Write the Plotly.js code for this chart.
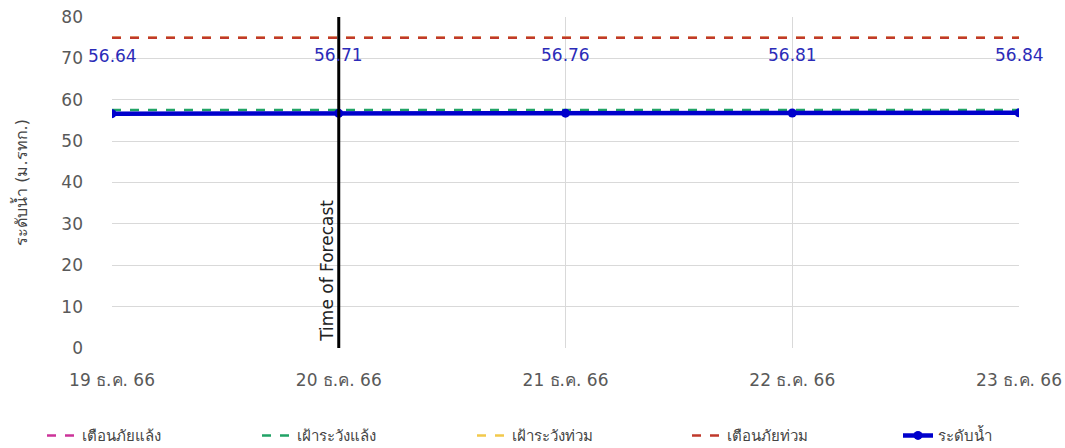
<!DOCTYPE html>
<html><head><meta charset="utf-8">
<script src="https://cdn.plot.ly/plotly-3.0.1.min.js"></script>
<style>html,body{margin:0;padding:0;background:#fff}#chart{width:1065px;height:448px}</style>
</head><body><div id="chart"></div>
<script>
const dates = ["19 ธ.ค. 66","20 ธ.ค. 66","21 ธ.ค. 66","22 ธ.ค. 66","23 ธ.ค. 66"];
const waterLevel = [56.64, 56.71, 56.76, 56.81, 56.84];
const dryWarning = [56.6, 56.6, 56.6, 56.6, 56.6];
const dryWatch = [57.5, 57.5, 57.5, 57.5, 57.5];
const floodWatch = [75, 75, 75, 75, 75];
const floodWarning = [75, 75, 75, 75, 75];
const forecastDate = "20 ธ.ค. 66";
const yTicks = [0,10,20,30,40,50,60,70,80];

const font = "Tahoma, 'DejaVu Sans', 'Noto Sans', sans-serif";
function dashed(name, y, color){
  return {x: dates, y: y, name: name, type:'scatter', mode:'lines',
    line:{color:color, width:2.5, dash:'dash'}, hoverinfo:'skip', legend:'legend'};
}
const traces = [
  dashed("เตือนภัยแล้ง", dryWarning, "#CC3399"),
  dashed("เฝ้าระวังแล้ง", dryWatch, "#21A366"),
  dashed("เฝ้าระวังท่วม", floodWatch, "#F2C94C"),
  dashed("เตือนภัยท่วม", floodWarning, "#C0392B"),
  {x: dates, y: waterLevel, name:"ระดับน้ำ", type:'scatter', mode:'lines+markers', legend:'legend2',
   line:{color:"#0000CC", width:4.5}, marker:{color:"#0000CC", size:9}}
];
const annotations = dates.map((d,i)=>({x:d, y:waterLevel[i], text:waterLevel[i].toFixed(2),
  showarrow:false, yshift:58, font:{family:font, size:17, color:"#2B2BB8"}}));
annotations.push({x:forecastDate, y:0, yanchor:'bottom', xanchor:'right', xshift:0, yshift:4,
  text:"Time of Forecast", textangle:-90, showarrow:false, font:{family:font, size:17, color:"#222"}});
const legFont = {family:font, size:15, color:"#444"};
const layout = {
  width:1065, height:448, paper_bgcolor:"#fff", plot_bgcolor:"#fff",
  margin:{l:112, r:46, t:17, b:100, autoexpand:false},
  font:{family:font, color:"#595959"},
  showlegend:true,
  legend:{orientation:'h', x:(42-112)/907, xanchor:'left', y:-0.215, yanchor:'top',
    entrywidth:170, entrywidthmode:'pixels', font:legFont},
  legend2:{orientation:'h', x:(898-112)/907, xanchor:'left', y:-0.215, yanchor:'top', font:legFont},
  xaxis:{type:'category', range:[0,4], showgrid:true, gridcolor:"#D9D9D9", zeroline:false,
    tickfont:{family:font, size:17, color:"#595959"}, ticks:'', showline:false,
    ticklabelstandoff:20, automargin:false},
  yaxis:{range:[0,80], tickvals:yTicks, showgrid:true, gridcolor:"#D9D9D9", zeroline:false,
    ticks:'', showline:false, ticklabelstandoff:28, automargin:false,
    tickfont:{family:font, size:17, color:"#595959"},
    title:{text:"ระดับน้ำ (ม.รทก.)", standoff:29, font:{family:font, size:16, color:"#444"}}},
  shapes:[{type:'line', xref:'x', yref:'paper', x0:forecastDate, x1:forecastDate, y0:0, y1:1,
    line:{color:"#000", width:3}}],
  annotations: annotations
};
Plotly.newPlot('chart', traces, layout, {displayModeBar:false, staticPlot:true});
</script></body></html>
